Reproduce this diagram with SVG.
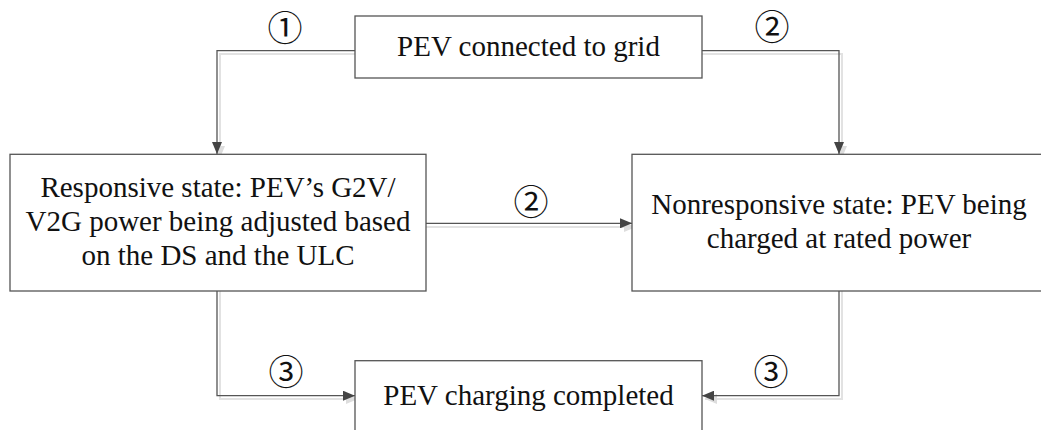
<svg xmlns="http://www.w3.org/2000/svg" width="1041" height="430" viewBox="0 0 1041 430">
<style>
.box{fill:#fff;stroke:#555;stroke-width:1.3}
.t{font-family:'Liberation Serif','Times New Roman','DejaVu Serif',serif;font-size:29px;fill:#111;text-anchor:middle}
.num{font-family:'Noto Sans CJK SC','DejaVu Sans',sans-serif;font-size:35px;fill:#111;text-anchor:middle}
.ln{fill:none;stroke:#555;stroke-width:1.3}
.sh{fill:none;stroke:#e2e2e2;stroke-width:2}
</style>
<defs>
<marker id="ah" viewBox="0 0 12 10" refX="12" refY="5" markerWidth="12" markerHeight="10" markerUnits="userSpaceOnUse" orient="auto">
<path d="M0,0 L12,5 L0,10 Z" fill="#444"/>
</marker>
<marker id="ahs" viewBox="0 0 12 10" refX="12" refY="5" markerWidth="12" markerHeight="10" markerUnits="userSpaceOnUse" orient="auto">
<path d="M0,0 L12,5 L0,10 Z" fill="#ddd"/>
</marker>
</defs>
<g id="connectors">
<g id="shadows">
<path class="sh" d="M355,54 H220 V158" marker-end="url(#ahs)"/>
<path class="sh" d="M702,54 H842 V158" marker-end="url(#ahs)"/>
<path class="sh" d="M426,227 H636" marker-end="url(#ahs)"/>
<path class="sh" d="M220,291 V399 H358" marker-end="url(#ahs)"/>
<path class="sh" d="M842,291 V399 H705" marker-end="url(#ahs)"/>
</g>
<path class="ln" d="M355,50.7 H217 V154" marker-end="url(#ah)"/>
<path class="ln" d="M702,50.7 H839 V154" marker-end="url(#ah)"/>
<path class="ln" d="M426,223.3 H632" marker-end="url(#ah)"/>
<path class="ln" d="M217,291 V395.7 H355" marker-end="url(#ah)"/>
<path class="ln" d="M839,291 V395.7 H702" marker-end="url(#ah)"/>
<text class="num" x="285" y="41">①</text>
<text class="num" x="772" y="40">②</text>
<text class="num" x="531" y="215">②</text>
<text class="num" x="286" y="385">③</text>
<text class="num" x="771" y="385">③</text>
</g>
<g id="n-connected">
<rect class="box" x="355" y="16" width="347" height="62"/>
<text class="t" x="528.5" y="56">PEV connected to grid</text>
</g>
<g id="n-responsive">
<rect class="box" x="10" y="154.3" width="416" height="136.7"/>
<text class="t" x="218" y="196.7">Responsive state: PEV’s G2V/</text>
<text class="t" x="218" y="230.7">V2G power being adjusted based</text>
<text class="t" x="218" y="265">on the DS and the ULC</text>
</g>
<g id="n-nonresponsive">
<rect class="box" x="632" y="154.3" width="414" height="136.7"/>
<text class="t" x="839" y="214">Nonresponsive state: PEV being</text>
<text class="t" x="839" y="248.3">charged at rated power</text>
</g>
<g id="n-completed">
<rect class="box" x="355" y="360.7" width="347" height="80"/>
<text class="t" x="528.5" y="405">PEV charging completed</text>
</g>
</svg>
